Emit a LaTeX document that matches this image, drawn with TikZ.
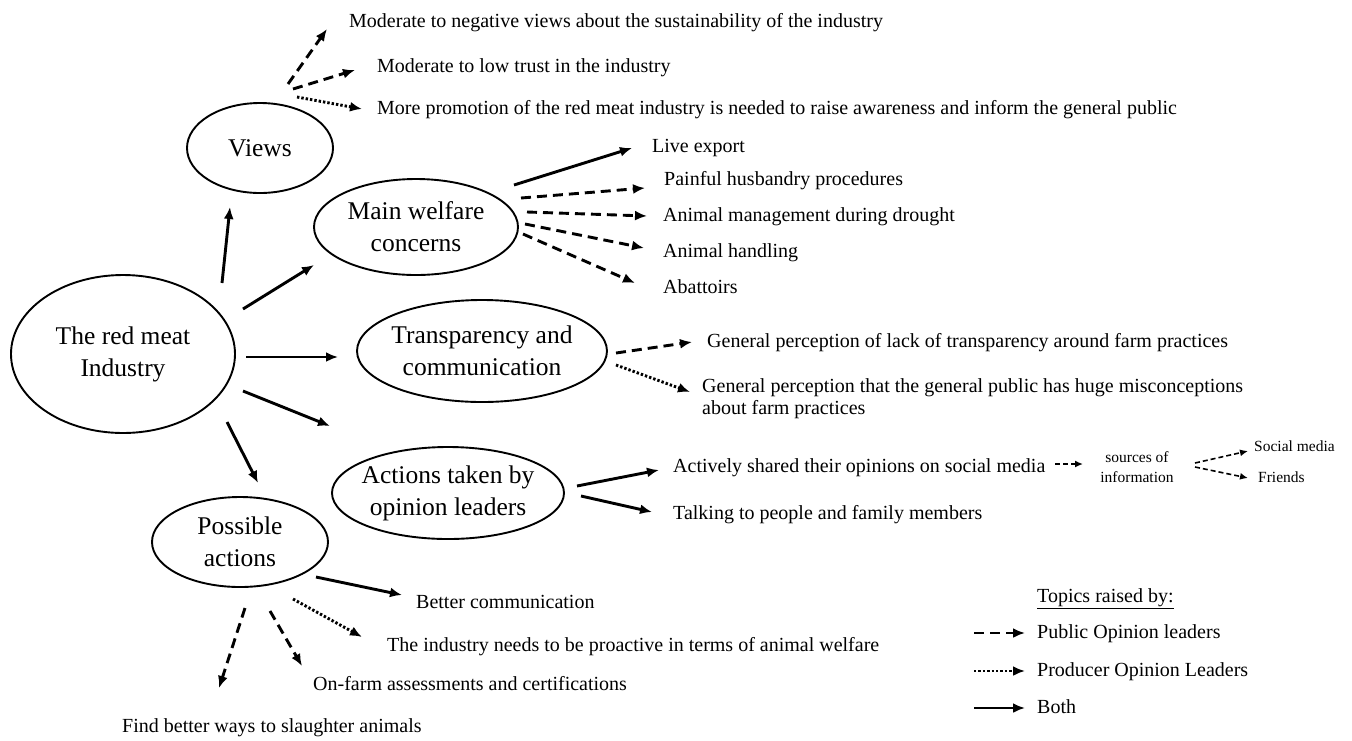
\documentclass[tikz,border=0pt]{standalone}
\usepackage{fontspec}
\setmainfont{Liberation Serif}
\usetikzlibrary{shapes.geometric,arrows.meta}
\begin{document}
\begin{tikzpicture}[x=1pt,y=-1pt,
  bub/.style={ellipse,draw,line width=1.9pt,inner sep=-8pt,align=center,font=\fontsize{25.5}{32}\selectfont},
  lbl/.style={anchor=west,inner sep=0pt,font=\fontsize{20}{22}\selectfont,text height=14pt,text depth=4pt},
  lbltwo/.style={anchor=west,inner sep=0pt,align=left,font=\fontsize{20}{22}\selectfont},
  slbl/.style={anchor=west,inner sep=0pt,font=\fontsize{15.5}{20}\selectfont,text height=11pt,text depth=3pt},
  solidarr/.style={line width=2.9pt,-{Latex[length=12pt,width=10pt]}},
  dasharr/.style={solidarr,dash pattern=on 10pt off 6pt},
  dotarr/.style={solidarr,dash pattern=on 2.4pt off 2pt},
  smallarr/.style={line width=1.6pt,dash pattern=on 5pt off 3pt,-{Latex[length=8pt,width=7pt]}},
]
\useasboundingbox (0,0) rectangle (1352,740);
\fill[white] (0,0) rectangle (1352,740);

% ellipses
\node[bub,minimum width=224pt,minimum height=158pt] (ind) at (123,354) {The red meat\\Industry};
\node[bub,minimum width=146pt,minimum height=90pt] (views) at (260,148) {Views};
\node[bub,minimum width=204pt,minimum height=96pt] (welf) at (416,227) {Main welfare\\concerns};
\node[bub,minimum width=250pt,minimum height=102pt] (trans) at (482,351) {Transparency and\\communication};
\node[bub,minimum width=232pt,minimum height=92pt] (act) at (448,493) {Actions taken by\\opinion leaders};
\node[bub,minimum width=176pt,minimum height=90pt] (poss) at (240,542) {Possible\\actions};

% texts
\node[lbl] (tv1) at (349,22) {Moderate to negative views about the sustainability of the industry};
\node[lbl] (tv2) at (377,67) {Moderate to low trust in the industry};
\node[lbl] (tv3) at (377,109) {More promotion of the red meat industry is needed to raise awareness and inform the general public};
\node[lbl] (tw1) at (652,147) {Live export};
\node[lbl] (tw2) at (664,180) {Painful husbandry procedures};
\node[lbl] (tw3) at (663,216) {Animal management during drought};
\node[lbl] (tw4) at (663,252) {Animal handling};
\node[lbl] (tw5) at (663,288) {Abattoirs};
\node[lbl] (tt1) at (707,342) {General perception of lack of transparency around farm practices};
\node[lbltwo] (tt2) at (702,399) {General perception that the general public has huge misconceptions\\about farm practices};
\node[lbl] (ta1) at (673,467) {Actively shared their opinions on social media};
\node[lbl] (ta2) at (673,514) {Talking to people and family members};
\node[inner sep=0pt,align=center,font=\fontsize{15.5}{20}\selectfont] (src) at (1137,467) {sources of\\information};
\node[slbl] (tsm) at (1254,447) {Social media};
\node[slbl] (tfr) at (1258,478) {Friends};
\node[lbl] (tp1) at (416,603) {Better communication};
\node[lbl] (tp2) at (387,646) {The industry needs to be proactive in terms of animal welfare};
\node[lbl] (tp3) at (313,685) {On-farm assessments and certifications};
\node[lbl] (tp4) at (122,727) {Find better ways to slaughter animals};

% legend
\node[lbl] (lgt) at (1037,597) {\underline{Topics raised by:}};
\node[lbl] (lg1) at (1037,633) {Public Opinion leaders};
\node[lbl] (lg2) at (1037,671) {Producer Opinion Leaders};
\node[lbl] (lg3) at (1037,708) {Both};

% connector end points
\coordinate (a1s) at (222,283); \coordinate (a1e) at (230,207);
\coordinate (a2s) at (243,309); \coordinate (a2e) at (314,265);
\coordinate (a3s) at (246,357); \coordinate (a3e) at (338,357);
\coordinate (a4s) at (243,391); \coordinate (a4e) at (330,426);
\coordinate (a5s) at (227,422); \coordinate (a5e) at (258,483);
\coordinate (v1s) at (288,84);  \coordinate (v1e) at (327,29);
\coordinate (v2s) at (293,89);  \coordinate (v2e) at (355,70);
\coordinate (v3s) at (297,97);  \coordinate (v3e) at (362,109);
\coordinate (w1s) at (514,185); \coordinate (w1e) at (632,148);
\coordinate (w2s) at (521,198); \coordinate (w2e) at (645,188);
\coordinate (w3s) at (527,212); \coordinate (w3e) at (647,216);
\coordinate (w4s) at (525,224); \coordinate (w4e) at (644,248);
\coordinate (w5s) at (523,234); \coordinate (w5e) at (635,283);
\coordinate (t1s) at (616,353); \coordinate (t1e) at (692,342);
\coordinate (t2s) at (616,365); \coordinate (t2e) at (690,392);
\coordinate (s1s) at (577,486); \coordinate (s1e) at (659,470);
\coordinate (s2s) at (581,496); \coordinate (s2e) at (652,512);
\coordinate (s3s) at (1055,464); \coordinate (s3e) at (1083,464);
\coordinate (s4s) at (1195,463); \coordinate (s4e) at (1248,451);
\coordinate (s5s) at (1195,467); \coordinate (s5e) at (1248,478);
\coordinate (p1s) at (316,577); \coordinate (p1e) at (402,595);
\coordinate (p2s) at (293,599); \coordinate (p2e) at (362,637);
\coordinate (p3s) at (270,611); \coordinate (p3e) at (302,666);
\coordinate (p4s) at (245,608); \coordinate (p4e) at (219,688);
\coordinate (l1s) at (974,633); \coordinate (l1e) at (1025,633);
\coordinate (l2s) at (974,671); \coordinate (l2e) at (1025,671);
\coordinate (l3s) at (974,708); \coordinate (l3e) at (1025,708);

% connectors
\draw[solidarr] (a1s) -- (a1e);
\draw[solidarr] (a2s) -- (a2e);
\draw[solidarr] (a3s) -- (a3e);
\draw[solidarr] (a4s) -- (a4e);
\draw[solidarr] (a5s) -- (a5e);
\draw[dasharr] (v1s) -- (v1e);
\draw[dasharr] (v2s) -- (v2e);
\draw[dotarr] (v3s) -- (v3e);
\draw[solidarr] (w1s) -- (w1e);
\draw[dasharr] (w2s) -- (w2e);
\draw[dasharr] (w3s) -- (w3e);
\draw[dasharr] (w4s) -- (w4e);
\draw[dasharr] (w5s) -- (w5e);
\draw[dasharr] (t1s) -- (t1e);
\draw[dotarr] (t2s) -- (t2e);
\draw[solidarr] (s1s) -- (s1e);
\draw[solidarr] (s2s) -- (s2e);
\draw[smallarr] (s3s) -- (s3e);
\draw[smallarr] (s4s) -- (s4e);
\draw[smallarr] (s5s) -- (s5e);
\draw[solidarr] (p1s) -- (p1e);
\draw[dotarr] (p2s) -- (p2e);
\draw[dasharr] (p3s) -- (p3e);
\draw[dasharr] (p4s) -- (p4e);
\draw[dasharr] (l1s) -- (l1e);
\draw[dotarr] (l2s) -- (l2e);
\draw[solidarr] (l3s) -- (l3e);
\end{tikzpicture}
\end{document}
